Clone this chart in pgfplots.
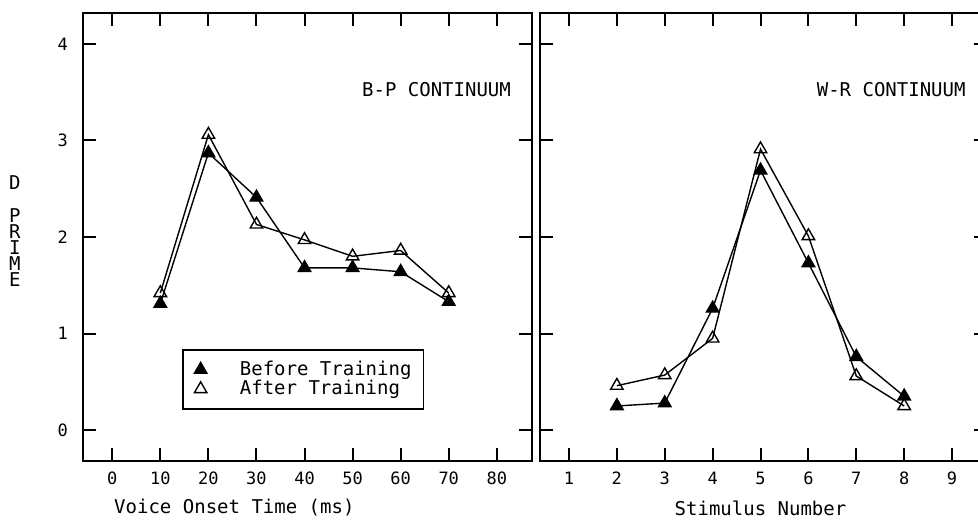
\documentclass[border=0pt]{standalone}
\usepackage{pgfplots}
\pgfplotsset{compat=1.18}
\usepackage{fontspec}
\setmainfont{DejaVu Sans Mono}

\pgfplotstableread{
x before after
10 1.31 1.42
20 2.87 3.06
30 2.41 2.13
40 1.68 1.97
50 1.68 1.80
60 1.64 1.86
70 1.33 1.42
}\bpdata

\pgfplotstableread{
x before after
2 0.25 0.46
3 0.28 0.57
4 1.26 0.95
5 2.69 2.91
6 1.73 2.01
7 0.76 0.56
8 0.35 0.25
}\wrdata

\begin{document}
\begin{tikzpicture}
\pgfplotsset{
 panel/.style={
  scale only axis, height=224pt,
  axis line style={line width=1.1pt},
  tick style={line width=1pt, black},
  major tick length=6.5pt,
  tick align=inside,
  ymin=-0.32, ymax=4.32,
  ytick={0,1,2,3,4},
  ticklabel style={font=\fontsize{8.5}{10}\selectfont},
  /pgf/number format/assume math mode=true,
  xticklabel style={anchor=center, yshift=-8.5pt},
  yticklabel style={anchor=center, xshift=-10pt},
  clip=false,
 },
 before/.style={black, line width=0.7pt, mark=triangle*, mark size=3.6pt, mark options={solid, fill=black}},
 after/.style={black, line width=0.7pt, mark=triangle, mark size=3.6pt, mark options={solid, fill=white}},
}
\begin{axis}[panel, width=224.6pt, at={(41.35pt,29pt)}, anchor=south west,
  xmin=-6.15, xmax=87.3, xtick={0,10,...,80},
  legend style={at={(axis cs:14.5,0.84)}, anchor=north west, draw=black, line width=0.9pt,
    font=\fontsize{9.5}{9}\selectfont, inner xsep=4pt, inner ysep=3.5pt, row sep=-3pt},
  legend cell align=left,
  legend image code/.code={\path (0cm,0cm); \draw[#1,only marks] plot coordinates {(0.16cm,0cm)};},
  ]
\addplot[before] table[x=x,y=before] {\bpdata};
\addplot[after] table[x=x,y=after] {\bpdata};
\legend{\hspace*{14.5pt}Before Training, \hspace*{14.5pt}After Training}
\node[anchor=east, inner sep=0pt, font=\fontsize{9.5}{11}\selectfont] at (axis cs:83,3.53) {B-P CONTINUUM};
\node[font=\fontsize{9.5}{11}\selectfont] at (axis cs:25.4,-0.32) [yshift=-23.5pt] {Voice Onset Time (ms)};
\node[font=\fontsize{9.5}{8}\selectfont, align=center, inner sep=0pt] at (axis cs:-20.25,2.06) {D\\[8.5pt]P\\R\\I\\M\\E};
\end{axis}
\begin{axis}[panel, width=223.5pt, at={(270pt,29pt)}, anchor=south west,
  xmin=0.395, xmax=9.73, xtick={1,...,9}, yticklabels={}]
\addplot[before] table[x=x,y=before] {\wrdata};
\addplot[after] table[x=x,y=after] {\wrdata};
\node[anchor=east, inner sep=0pt, font=\fontsize{9.5}{11}\selectfont] at (axis cs:9.29,3.53) {W-R CONTINUUM};
\node[font=\fontsize{9.5}{11}\selectfont] at (axis cs:5.0,-0.32) [yshift=-23.5pt] {Stimulus Number};
\end{axis}
\pgfresetboundingbox
\useasboundingbox (0,0) rectangle (489pt,259.5pt);
\end{tikzpicture}
\end{document}
